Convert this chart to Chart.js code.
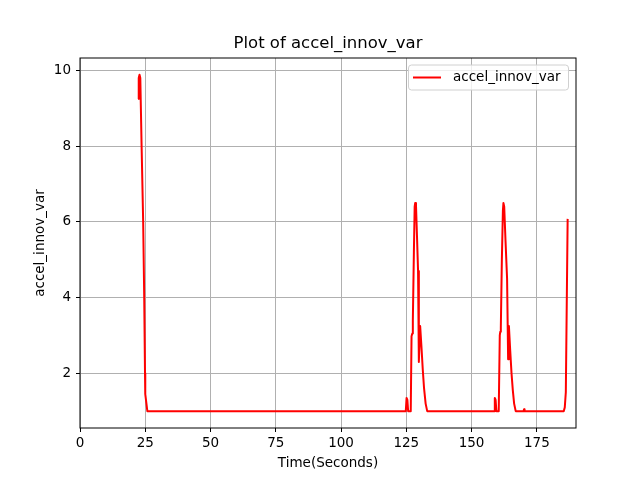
<!DOCTYPE html>
<html>
<head>
<meta charset="utf-8">
<script src="https://cdn.jsdelivr.net/npm/chart.js@4.4.0/dist/chart.umd.min.js"></script>
<style>
  html, body { margin: 0; padding: 0; background: #fff; }
  #wrap { width: 640px; height: 480px; }
</style>
</head>
<body>
<div id="wrap"><canvas id="mychart" width="640" height="480"></canvas></div>
<script>
// time axis (seconds) and the innovation variance
const timeSeconds = [
  22.3, 22.5, 22.8, 23.1, 23.6, 24.2, 24.6, 24.9, 25.0, 25.8, 27.0,
  50, 75, 100, 124.8, 125.1, 125.4, 125.7,
  126.7, 127.0, 127.3, 127.5, 127.9, 128.2, 128.4, 128.7, 129.1, 129.5,
  129.8, 130.3, 130.8, 131.3, 131.8, 132.4, 133.0,
  140, 150, 158.6, 158.9, 159.2, 159.5,
  160.4, 160.8, 161.0, 161.2, 161.6, 162.0, 162.2, 162.5, 163.0, 163.6,
  164.0, 164.3, 164.8, 165.3, 165.8, 166.3, 166.9,
  169.9, 170.1, 170.3, 175, 185.3, 185.7, 186.1, 186.8
];
const accelInnovVar = [
  9.25, 9.8, 9.89, 9.8, 8.0, 6.0, 4.0, 2.0, 1.45, 1.0, 1.0,
  1.0, 1.0, 1.0, 1.0, 1.35, 1.3, 1.0,
  1.0, 2.98, 3.05, 3.4, 5.2, 6.4, 6.5, 6.45, 5.6, 4.7,
  2.3, 3.25, 2.7, 2.1, 1.6, 1.2, 1.0,
  1.0, 1.0, 1.0, 1.35, 1.3, 1.0,
  1.0, 3.0, 3.1, 3.2, 5.0, 6.3, 6.5, 6.4, 5.5, 4.5,
  2.37, 3.25, 2.6, 2.0, 1.55, 1.2, 1.0,
  1.0, 1.05, 1.0, 1.0, 1.0, 1.1, 1.5, 6.08
];
const xTicks = [0, 25, 50, 75, 100, 125, 150, 175];
const yTicks = [2, 4, 6, 8, 10];

const FONT = 'DejaVu Sans';

const framePlugin = {
  id: 'frame',
  afterDraw(chart) {
    const { ctx, chartArea: a } = chart;
    ctx.save();
    ctx.strokeStyle = '#000';
    ctx.lineWidth = 1;
    ctx.strokeRect(a.left, a.top, a.right - a.left, a.bottom - a.top);

    ctx.fillStyle = '#000';
    ctx.textAlign = 'center';
    ctx.textBaseline = 'middle';
    ctx.font = '16.5px "' + FONT + '"';
    ctx.fillText('Plot of accel_innov_var', (a.left + a.right) / 2, 44);
    ctx.font = '13.5px "' + FONT + '"';
    ctx.fillText('Time(Seconds)', (a.left + a.right) / 2, 463);
    ctx.save();
    ctx.translate(40, (a.top + a.bottom) / 2);
    ctx.rotate(-Math.PI / 2);
    ctx.fillText('accel_innov_var', 0, 0);
    ctx.restore();

    // legend box
    const lx = 408.5, ly = 65, lw = 160, lh = 25;
    ctx.fillStyle = 'rgba(255,255,255,0.8)';
    ctx.strokeStyle = '#d0d0d0';
    ctx.beginPath();
    ctx.roundRect(lx, ly, lw, lh, 3);
    ctx.fill();
    ctx.stroke();
    const ds = chart.data.datasets[0];
    ctx.strokeStyle = ds.borderColor;
    ctx.lineWidth = 2;
    ctx.beginPath();
    ctx.moveTo(413, 77.5);
    ctx.lineTo(441, 77.5);
    ctx.stroke();
    ctx.fillStyle = '#000';
    ctx.textAlign = 'left';
    ctx.fillText(ds.label, 453, 77.5);
    ctx.restore();
  }
};

const canvas = document.getElementById('mychart');
const config = {
  type: 'line',
  data: {
    datasets: [{
      label: 'accel_innov_var',
      data: timeSeconds.map((t, i) => ({ x: t, y: accelInnovVar[i] })),
      borderColor: '#ff0000',
      borderWidth: 2,
      borderJoinStyle: 'round',
      pointRadius: 0,
      tension: 0,
      fill: false
    }]
  },
  options: {
    responsive: false,
    animation: false,
    devicePixelRatio: 1,
    layout: { padding: { top: 58, right: 64, left: 0, bottom: 0 } },
    plugins: {
      legend: { display: false },
      title: { display: false },
      tooltip: { enabled: false }
    },
    scales: {
      x: {
        type: 'linear',
        min: 0,
        max: 190,
        afterBuildTicks: (s) => { s.ticks = xTicks.map(v => ({ value: v })); },
        afterFit: (s) => { s.height = 52; },
        grid: { color: '#b0b0b0', lineWidth: 1, tickColor: '#000', tickLength: 4, tickWidth: 1 },
        border: { display: false },
        ticks: { color: '#000', padding: 3, maxRotation: 0, font: { family: FONT, size: 13.5 } }
      },
      y: {
        type: 'linear',
        min: 0.555,
        max: 10.33,
        afterBuildTicks: (s) => { s.ticks = yTicks.map(v => ({ value: v })); },
        afterFit: (s) => { s.width = 80; },
        grid: { color: '#b0b0b0', lineWidth: 1, tickColor: '#000', tickLength: 4, tickWidth: 1 },
        border: { display: false },
        ticks: { color: '#000', padding: 5, font: { family: FONT, size: 13.5 } }
      }
    }
  },
  plugins: [framePlugin]
};
new Chart(canvas, config);
</script>
</body>
</html>
